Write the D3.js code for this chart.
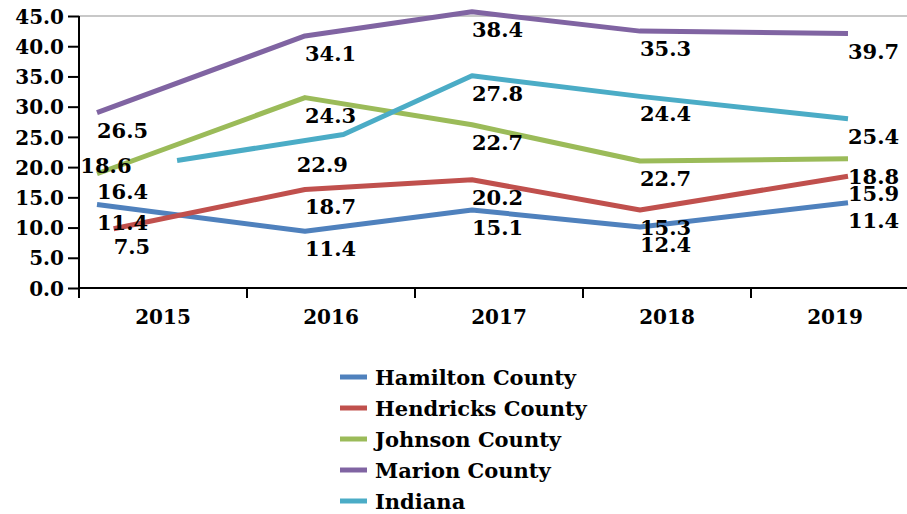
<!DOCTYPE html>
<html>
<head>
<meta charset="utf-8">
<script src="https://cdn.jsdelivr.net/npm/d3@7"></script>
<style>
  body { margin: 0; background: #fff; }
  text { font-family: "DejaVu Serif", serif; font-weight: bold; fill: #000; }
</style>
</head>
<body>
<svg id="chart" width="907" height="514"></svg>
<script>
// categories and series
const years = [2015, 2016, 2017, 2018, 2019];
const seriesNames = ["Hamilton County", "Hendricks County", "Johnson County", "Marion County", "Indiana"];
const colors = ["#4f81bd", "#c0504d", "#9bbb59", "#8064a2", "#4bacc6"];
const yTicks = [0, 5, 10, 15, 20, 25, 30, 35, 40, 45];

// values where each line is drawn
const hamiltonLine = [13.8, 9.4, 12.9, 10.1, 14.1];
const hendricksLine = [9.8, 16.3, 17.9, 12.9, 18.5];
const johnsonLine = [18.9, 31.5, 27.0, 21.0, 21.4];
const marionLine = [29.0, 41.7, 45.7, 42.5, 42.1];
const indianaLine = [21.1, 25.4, 35.1, 31.7, 28.0];

// where along the year axis each line point sits (some lines start late)
const hamiltonAt = [2015, 2016, 2017, 2018, 2019];
const hendricksAt = [2015.08, 2016, 2017, 2018, 2019];
const johnsonAt = [2015, 2016, 2017, 2018, 2019];
const marionAt = [2015, 2016, 2017, 2018, 2019];
const indianaAt = [2015.385, 2016.23, 2017, 2018, 2019];

// data labels as printed
const hamiltonLabels = [11.4, 11.4, 15.1, 12.4, 11.4];
const hendricksLabels = [7.5, 18.7, 20.2, 15.3, 15.9];
const johnsonLabels = [16.4, 24.3, 22.7, 22.7, 18.8];
const marionLabels = [26.5, 34.1, 38.4, 35.3, 39.7];
const indianaLabels = [18.6, 22.9, 27.8, 24.4, 25.4];

// indiana's first two labels are not anchored on its line
const indianaLabelAt = [2014.92, 2015.96, 2017, 2018, 2019];
const indianaLabelVal = [23.2, 23.4, 35.1, 31.7, 28.0];

const series = [
  { name: seriesNames[0], color: colors[0], at: hamiltonAt, values: hamiltonLine, labels: hamiltonLabels },
  { name: seriesNames[1], color: colors[1], at: hendricksAt, values: hendricksLine, labels: hendricksLabels },
  { name: seriesNames[2], color: colors[2], at: johnsonAt, values: johnsonLine, labels: johnsonLabels },
  { name: seriesNames[3], color: colors[3], at: marionAt, values: marionLine, labels: marionLabels },
  { name: seriesNames[4], color: colors[4], at: indianaAt, values: indianaLine, labels: indianaLabels,
    labelAt: indianaLabelAt, labelVal: indianaLabelVal }
];

const svg = d3.select("#chart");

const plot = { left: 79, top: 16, bottom: 288, right: 919 };

// category bands for the axis
const xBand = d3.scaleBand().domain(years).range([plot.left, plot.right]);
// where points are placed along the plot
const xPoint = d3.scaleLinear().domain(years).range([97, 305, 472, 640, 848]);
const y = d3.scaleLinear().domain([0, 45]).range([plot.bottom, plot.top]);

// top border of plot area
svg.append("line")
  .attr("x1", plot.left).attr("x2", plot.right)
  .attr("y1", plot.top).attr("y2", plot.top)
  .attr("stroke", "#c8c8c8").attr("stroke-width", 2);

// y axis
const yAxis = svg.append("g")
  .attr("transform", "translate(" + plot.left + ",0)")
  .call(d3.axisLeft(y).tickValues(yTicks).tickFormat(d3.format(".1f")).tickSize(11).tickPadding(4));
yAxis.select(".domain").attr("d", "M0," + plot.top + "V" + (plot.bottom + 10));
yAxis.selectAll("line, path").attr("stroke", "#000").attr("stroke-width", 2);
yAxis.selectAll("text").style("font-size", "20px").attr("dy", "0.36em");

// x axis
const xAxis = svg.append("g")
  .attr("transform", "translate(0," + plot.bottom + ")")
  .call(d3.axisBottom(xBand).tickSize(0).tickPadding(22));
xAxis.select(".domain").attr("d", "M" + plot.left + ",0H" + plot.right)
  .attr("stroke", "#000").attr("stroke-width", 2);
xAxis.selectAll("text").style("font-size", "20px");
xAxis.selectAll(".sep")
  .data(years.slice(1))
  .enter()
  .append("line")
  .attr("class", "sep")
  .attr("x1", d => xBand(d)).attr("x2", d => xBand(d))
  .attr("y1", 0).attr("y2", 10)
  .attr("stroke", "#000").attr("stroke-width", 2);

// lines
const line = d3.line()
  .x(d => xPoint(d.at))
  .y(d => y(d.value));

series.forEach(function (s) {
  const pts = s.values.map((v, i) => ({ at: s.at[i], value: v }));
  svg.append("path")
    .datum(pts)
    .attr("fill", "none")
    .attr("stroke", s.color)
    .attr("stroke-width", 5)
    .attr("stroke-linejoin", "round")
    .attr("d", line);
});

// data labels, left-aligned just below each point
series.forEach(function (s) {
  const lab = s.labels.map((t, i) => ({
    text: t,
    at: s.labelAt ? s.labelAt[i] : s.at[i],
    value: s.labelVal ? s.labelVal[i] : s.values[i]
  }));
  svg.append("g")
    .selectAll("text")
    .data(lab)
    .enter()
    .append("text")
    .attr("x", d => xPoint(d.at))
    .attr("y", d => y(d.value) + 25)
    .style("font-size", "21px")
    .text(d => d3.format(".1f")(d.text));
});

// legend
const legend = svg.append("g").attr("transform", "translate(340,377)");
const rows = legend.selectAll("g")
  .data(series)
  .enter()
  .append("g")
  .attr("transform", (d, i) => "translate(0," + i * 31 + ")");
rows.append("line")
  .attr("x1", 0).attr("x2", 27)
  .attr("y1", 0).attr("y2", 0)
  .attr("stroke", d => d.color)
  .attr("stroke-width", 5);
rows.append("text")
  .attr("x", 35)
  .attr("dy", "0.36em")
  .style("font-size", "21px")
  .text(d => d.name);
</script>
</body>
</html>
